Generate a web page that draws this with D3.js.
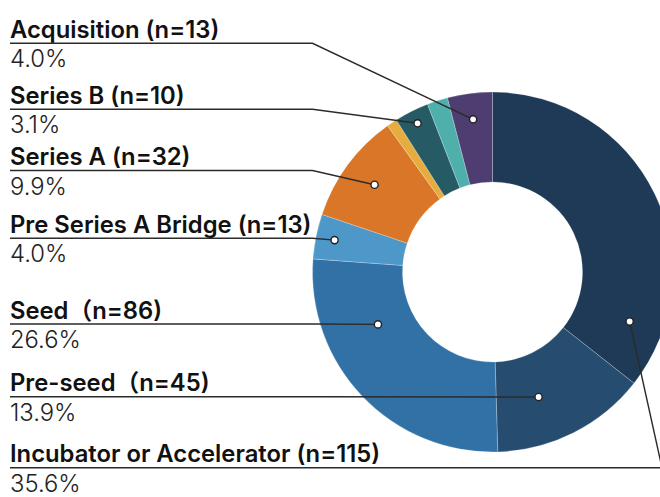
<!DOCTYPE html>
<html>
<head>
<meta charset="utf-8">
<script src="https://cdn.jsdelivr.net/npm/d3@7"></script>
<style>
  html, body { margin: 0; padding: 0; background: #fff; }
  svg { display: block; }
</style>
</head>
<body>
<div id="chart"></div>
<script>
// ---- data (clockwise from 12 o'clock) ----
const categories = ["Incubator or Accelerator", "Pre-seed", "Seed", "Pre Series A Bridge",
                    "Series A", "Series C", "Series B", "Other", "Acquisition"];
const counts = [115, 45, 86, 13, 32, 3, 10, 6, 13];
const labelNames = ["Incubator or Accelerator (n=115)", "Pre-seed（n=45)", "Seed（n=86)",
                    "Pre Series A Bridge (n=13)", "Series A (n=32)", null, "Series B (n=10)", null,
                    "Acquisition (n=13)"];
const colors = ["#1e3a56", "#264c70", "#3171a5", "#4e97c9", "#d97628",
                "#e6ad3e", "#265b65", "#4eafab", "#4d3d70"];

// label order, top to bottom on the left
const labelOrder = ["Acquisition", "Series B", "Series A", "Pre Series A Bridge",
                    "Seed", "Pre-seed", "Incubator or Accelerator"];

// ---- layout ----
const width = 660, height = 497;
const cx = 492.5, cy = 272;
const outerR = 180, innerR = 90;
const labelX = 10;
const rowLineY = [43.3, 109.3, 170.5, 238.3, 324, 396.7, 467.7];
// where the callout dot sits inside its slice: fraction of slice angle, fraction of ring depth
const anchors = {
    "Acquisition": [0.5, 0.71],
    "Series B": [0.5, 0.85],
    "Series A": [0.5, 0.63],
    "Pre Series A Bridge": [0.5, 0.79],
    "Seed": [0.7, 0.4],
    "Pre-seed": [0.63, 0.48],
    "Incubator or Accelerator": [0.857, 0.62]
};

const svg = d3.select("#chart").append("svg")
    .attr("width", width)
    .attr("height", height);

const total = d3.sum(counts);
const fmtPct = d3.format(".1%");

const pie = d3.pie().sort(null).value(d => d.count);
const arcs = pie(categories.map((c, i) => ({name: c, count: counts[i], color: colors[i], label: labelNames[i]})));

const arc = d3.arc().innerRadius(innerR).outerRadius(outerR);

const g = svg.append("g").attr("transform", `translate(${cx},${cy})`);

g.selectAll("path.slice")
    .data(arcs)
    .join("path")
    .attr("class", "slice")
    .attr("d", arc)
    .attr("fill", d => d.data.color)
    .attr("stroke", "#fff")
    .attr("stroke-opacity", 0.3)
    .attr("stroke-width", 0.8);

// callouts
const fontFamily = "Inter, 'Noto Sans CJK SC', sans-serif";
const byName = {};
arcs.forEach(a => byName[a.data.name] = a);

labelOrder.forEach((name, i) => {
    const a = byName[name];
    const [fa, fr] = anchors[name];
    const ang = a.startAngle + (a.endAngle - a.startAngle) * fa;
    const rr = innerR + (outerR - innerR) * fr;
    const px = cx + rr * Math.sin(ang);
    const py = cy - rr * Math.cos(ang);
    const ly = rowLineY[i];

    // the bottom label runs along the full width, its leader rises from the right edge
    const elbowX = name === "Incubator or Accelerator" ? width + 2 : cx - outerR;
    const pts = [[labelX, ly], [elbowX, ly], [px, py]];

    svg.append("path")
        .attr("d", d3.line()(pts))
        .attr("fill", "none")
        .attr("stroke", "#2b2b2b")
        .attr("stroke-width", 1.4);

    svg.append("circle")
        .attr("cx", px)
        .attr("cy", py)
        .attr("r", 3.6)
        .attr("fill", "#fff")
        .attr("stroke", "#222")
        .attr("stroke-width", 1.4);

    svg.append("text")
        .attr("x", labelX)
        .attr("y", ly - 5.5)
        .text(a.data.label)
        .style("font-family", fontFamily)
        .style("font-size", "23.8px")
        .style("font-weight", 600)
        .style("fill", "#111");

    svg.append("text")
        .attr("x", labelX)
        .attr("y", ly + 24)
        .text(fmtPct(a.data.count / total))
        .style("font-family", fontFamily)
        .style("font-size", "23.8px")
        .style("font-weight", 300)
        .style("fill", "#222");
});
</script>
</body>
</html>
